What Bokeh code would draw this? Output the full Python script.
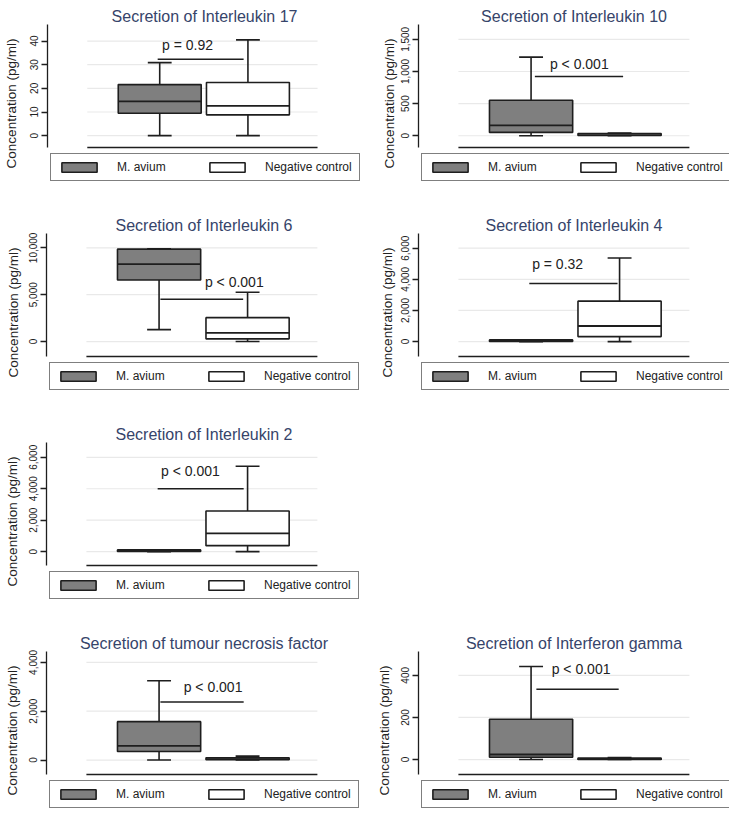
from bokeh.plotting import figure
from bokeh.layouts import column, row
from bokeh.models import (ColumnDataSource, FixedTicker, NumeralTickFormatter,
                          Legend, LegendItem, Spacer)
from bokeh.core.properties import value
from bokeh.embed import file_html
from bokeh.resources import INLINE

# ---------------- data ----------------
groups = ["M. avium", "Negative control"]

titles = ["Secretion of Interleukin 17", "Secretion of Interleukin 10",
          "Secretion of Interleukin 6", "Secretion of Interleukin 4",
          "Secretion of Interleukin 2", "Secretion of tumour necrosis factor",
          "Secretion of Interferon gamma"]

# five-number summaries: min, Q1, median, Q3, max  (pg/ml)
mav_il17 = [0, 9.5, 14.5, 21.6, 30.9]
neg_il17 = [0, 8.8, 12.6, 22.5, 40.5]
mav_il10 = [0, 52, 161, 552, 1223]
neg_il10 = [0, 3, 10, 35, 40]
mav_il6 = [1277, 6564, 8266, 9862, 9900]
neg_il6 = [0, 287, 926, 2553, 5255]
mav_il4 = [0, 5, 40, 110, 120]
neg_il4 = [0, 320, 1003, 2600, 5367]
mav_il2 = [0, 5, 40, 110, 120]
neg_il2 = [0, 379, 1161, 2587, 5426]
mav_tnf = [0, 348, 580, 1573, 3246]
neg_tnf = [0, 10, 40, 90, 160]
mav_ifn = [0, 11, 24, 191, 442]
neg_ifn = [0, 1, 3, 7, 10]

ticks_il17 = [0, 10, 20, 30, 40]
ticks_il10 = [0, 500, 1000, 1500]
ticks_il6 = [0, 5000, 10000]
ticks_il4 = [0, 2000, 4000, 6000]
ticks_il2 = [0, 2000, 4000, 6000]
ticks_tnf = [0, 2000, 4000]
ticks_ifn = [0, 200, 400]

# y axis extent (bottom, top)
axis_il17 = [-5, 47]
axis_il10 = [-183, 1731]
axis_il6 = [-1596, 11533]
axis_il4 = [-958, 6946]
axis_il2 = [-883, 6940]
axis_tnf = [-592, 4446]
axis_ifn = [-71, 513]

# p-value annotations: text, line (x start, x end, y), text position (x, y)
p_texts = ["p = 0.92", "p < 0.001", "p < 0.001", "p = 0.32", "p < 0.001", "p < 0.001", "p < 0.001"]
p_line_x0 = [0.977, 1.043, 1.015, 0.98, 0.984, 1.015, 1.06]
p_line_x1 = [1.951, 2.04, 1.95, 1.977, 1.956, 1.956, 1.99]
p_line_y = [32.3, 922, 4511, 3731, 4000, 2379, 334]
p_text_x = [1.316, 1.545, 1.85, 1.30, 1.354, 1.61, 1.565]
p_text_y = [38.3, 1122, 6383, 5010, 5110, 2998, 431]

# ---------------- styling ----------------
FONT = "Liberation Sans"
LC = "#1e1e1e"
FILLS = ["#7f7f7f", "#ffffff"]
TITLE_C = "#36446a"


def panel(i, mav, neg, ticks, yaxis, side, lab_standoff, last_row):
    W = 362 if side == "left" else 368
    H = 182 if last_row else 209
    left = 46 if side == "left" else 56
    y_bot, y_top = yaxis
    per_px = (y_top - y_bot) / 123.0
    y_fb = y_bot - 35 * per_px
    frame_w = W - left - 1
    x0 = -0.272
    x1 = x0 + frame_w / 88.5
    p = figure(width=W, height=H, x_range=(x0, x1), y_range=(y_fb, y_top),
               output_backend="svg", toolbar_location=None,
               min_border_left=left, min_border_right=1, min_border_top=24,
               min_border_bottom=H - 182, title=titles[i])
    p.outline_line_color = None
    p.background_fill_color = "white"
    p.border_fill_color = "white"
    p.xgrid.visible = False
    p.ygrid.visible = False
    p.xaxis.visible = False

    t = p.title
    t.align = "center"
    t.text_font = FONT
    t.text_font_size = "16px"
    t.text_font_style = "normal"
    t.text_color = TITLE_C
    t.standoff = 0

    ax = p.yaxis[0]
    ax.ticker = FixedTicker(ticks=ticks)
    ax.formatter = NumeralTickFormatter(format="0,0")
    ax.bounds = (y_bot, y_top)
    ax.major_label_orientation = "vertical"
    ax.major_label_text_font = FONT
    ax.major_label_text_font_size = "10px"
    ax.major_label_text_color = "#222222"
    ax.major_label_standoff = 3
    ax.major_tick_out = 6
    ax.major_tick_in = 0
    ax.minor_tick_out = 0
    ax.minor_tick_in = 0
    ax.axis_line_color = LC
    ax.axis_line_width = 1.3
    ax.major_tick_line_color = LC
    ax.major_tick_line_width = 1.3
    ax.axis_label = "Concentration (pg/ml)"
    ax.axis_label_text_font = FONT
    ax.axis_label_text_font_size = "13.5px"
    ax.axis_label_text_font_style = "normal"
    ax.axis_label_text_color = "#222222"
    ax.axis_label_standoff = lab_standoff

    # grid lines and baseline over the plot region
    gx0, gx1 = 0.179, 2.789
    p.segment(x0=[gx0] * len(ticks), x1=[gx1] * len(ticks), y0=ticks, y1=ticks,
              line_color="#e9e9e9", line_width=1.2)
    p.segment(x0=[gx0], x1=[gx1], y0=[y_bot], y1=[y_bot], line_color=LC, line_width=1.5)

    items = []
    for k, stats in enumerate([mav, neg]):
        xc = k + 1
        src = ColumnDataSource(dict(x=[xc], lo=[stats[0]], q1=[stats[1]], med=[stats[2]],
                                    q3=[stats[3]], hi=[stats[4]],
                                    bl=[xc - 0.47], br=[xc + 0.47],
                                    cl=[xc - 0.135], cr=[xc + 0.135]))
        p.segment(x0="x", y0="q3", x1="x", y1="hi", source=src, line_color=LC, line_width=1.6)
        p.segment(x0="x", y0="lo", x1="x", y1="q1", source=src, line_color=LC, line_width=1.6)
        p.segment(x0="cl", y0="hi", x1="cr", y1="hi", source=src, line_color=LC, line_width=1.6)
        p.segment(x0="cl", y0="lo", x1="cr", y1="lo", source=src, line_color=LC, line_width=1.6)
        r = p.vbar(x="x", width=0.94, bottom="q1", top="q3", source=src,
                   fill_color=FILLS[k], line_color=LC, line_width=1.6)
        p.segment(x0="bl", y0="med", x1="br", y1="med", source=src, line_color=LC, line_width=1.8)
        items.append(LegendItem(label=value(groups[k]), renderers=[r]))

    p.segment(x0=[p_line_x0[i]], x1=[p_line_x1[i]], y0=[p_line_y[i]], y1=[p_line_y[i]],
              line_color=LC, line_width=1.5)
    p.text(x=[p_text_x[i]], y=[p_text_y[i]], text=[p_texts[i]], text_align="center",
           text_baseline="middle", text_font=value(FONT), text_font_size="14px",
           text_color="#222222")

    leg = Legend(items=items, orientation="horizontal", location=(3, 1),
                 glyph_width=44, glyph_height=12, label_standoff=16, label_width=88,
                 spacing=0, padding=6, margin=0,
                 border_line_color="black", border_line_width=1.5,
                 background_fill_color="white", background_fill_alpha=1.0,
                 label_text_font=FONT, label_text_font_size="12px",
                 label_text_color="#222222")
    p.add_layout(leg)
    return p


p1 = panel(0, mav_il17, neg_il17, ticks_il17, axis_il17, "left", 9, False)
p2 = panel(1, mav_il10, neg_il10, ticks_il10, axis_il10, "right", 2, False)
p3 = panel(2, mav_il6, neg_il6, ticks_il6, axis_il6, "left", 6, False)
p4 = panel(3, mav_il4, neg_il4, ticks_il4, axis_il4, "right", 4, False)
p5 = panel(4, mav_il2, neg_il2, ticks_il2, axis_il2, "left", 7, False)
p6 = panel(5, mav_tnf, neg_tnf, ticks_tnf, axis_tnf, "left", 7, True)
p7 = panel(6, mav_ifn, neg_ifn, ticks_ifn, axis_ifn, "right", 7, True)

layout = column(row(p1, p2), row(p3, p4), row(p5, Spacer(width=368, height=209)), row(p6, p7))

open("out.html", "w").write(file_html(layout, INLINE))
